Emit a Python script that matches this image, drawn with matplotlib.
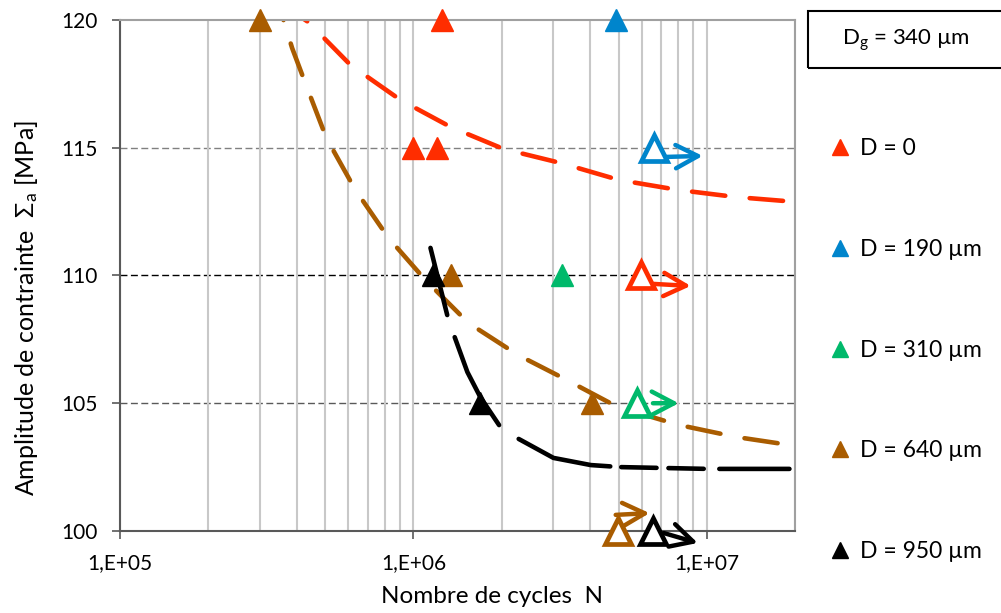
import numpy as np
import matplotlib
matplotlib.use("Agg")
import matplotlib.pyplot as plt
from matplotlib.lines import Line2D
from matplotlib.patches import Rectangle
from matplotlib.ticker import FixedLocator, FixedFormatter, LogLocator, NullFormatter

plt.rcParams['font.family'] = ['Lato', 'DejaVu Sans']
plt.rcParams['mathtext.fontset'] = 'custom'
plt.rcParams['mathtext.rm'] = 'Lato'
plt.rcParams['mathtext.it'] = 'Lato:italic'

# Données
labels = ["D = 0", "D = 190 µm", "D = 310 µm", "D = 640 µm", "D = 950 µm"]
colors = ["#FF2D00", "#0085CC", "#00B96B", "#A95C00", "#000000"]

# essais rompus (triangles pleins)
broken_x = [[1.25e6, 1.0e6, 1.2e6],
            [4.9e6],
            [3.2e6],
            [3.0e5, 1.34e6, 4.05e6],
            [1.17e6, 1.68e6]]
broken_y = [[120, 115, 115],
            [120],
            [110],
            [120, 110, 105],
            [110, 105]]

# essais non rompus (triangles vides + fleche)
runout_x = [5.95e6, 6.6e6, 5.8e6, 4.97e6, 6.55e6]
runout_y = [110, 115, 105, 100, 100]
arrow_start_x = [6.59e6, 7.24e6, 6.55e6, 4.89e6, 7.13e6]
arrow_start_y = [109.67, 114.64, 105.0, 100.63, 99.92]
arrow_end_x = [8.81e6, 9.68e6, 8.02e6, 6.38e6, 9.31e6]
arrow_end_y = [109.59, 114.68, 105.0, 100.70, 99.53]

# courbes de tendance
red_curve_x = [4.18e5, 4.38e5, 6.10e5, 9.03e5, 1.34e6, 2.03e6, 3.18e6, 5.01e6, 7.96e6, 1.256e7, 2.01e7]
red_curve_y = [120.08, 119.92, 118.24, 116.87, 115.81, 114.95, 114.40, 113.74, 113.35, 113.07, 112.88]
brown_curve_x = [3.52e5, 3.86e5, 4.28e5, 5.05e5, 6.34e5, 8.22e5, 1.099e6, 1.54e6, 2.27e6, 3.18e6, 4.97e6, 8.02e6, 1.256e7, 2.01e7]
brown_curve_y = [120.39, 118.90, 117.53, 115.38, 113.35, 111.47, 109.82, 108.14, 106.89, 106.03, 104.85, 104.15, 103.68, 103.33]
black_curve_x = [1.143e6, 1.316e6, 1.527e6, 1.69e6, 2.01e6, 2.32e6, 3.0e6, 4.02e6, 5.08e6, 1.006e7, 2.0e7]
black_curve_y = [111.08, 108.26, 106.22, 105.24, 103.95, 103.56, 102.86, 102.58, 102.50, 102.43, 102.43]

xtick_values = [1e5, 1e6, 1e7]
xtick_labels = ["1,E+05", "1,E+06", "1,E+07"]
ytick_values = [100, 105, 110, 115, 120]
hline_values = [105, 110, 115]
hline_colors = ["#595959", "#000000", "#808080"]

fig = plt.figure(figsize=(10.01, 6.13), dpi=100)
ax = fig.add_axes([0.1199, 0.1338, 0.6745, 0.8336])
ax.set_xscale("log")
ax.set_xlim(1e5, 2e7)
ax.set_ylim(100, 120)

# quadrillage
ax.xaxis.set_major_locator(FixedLocator(xtick_values))
ax.xaxis.set_major_formatter(FixedFormatter(xtick_labels))
ax.xaxis.set_minor_locator(LogLocator(base=10, subs=np.arange(2, 10)))
ax.xaxis.set_minor_formatter(NullFormatter())
ax.grid(axis="x", which="both", color="#C8C8C8", lw=1.5, zorder=0)
for v, c in zip(hline_values, hline_colors):
    ax.axhline(v, color=c, lw=1.0, ls=(0, (5, 2.5)), zorder=1)

# courbes
ax.plot(red_curve_x, red_curve_y, color=colors[0], lw=3.3, ls=(6.0, (7.3, 5.35)),
        dash_capstyle="round", zorder=2)
ax.plot(brown_curve_x, brown_curve_y, color=colors[3], lw=3.3, ls=(5.0, (7.3, 5.35)),
        dash_capstyle="round", zorder=2)
ax.plot(black_curve_x, black_curve_y, color=colors[4], lw=3.3,
        ls=(0, (15.1, 5.1, 21.6, 5.35, 21.2, 2.4, 7.7, 2.6, 7.7, 3.4, 15.3, 2.0)),
        dash_capstyle="round", zorder=2)

# points
handles = []
for i in range(len(labels)):
    ax.plot(broken_x[i], broken_y[i], ls="none", marker="^", ms=16,
            color=colors[i], clip_on=False, zorder=4)
    ax.plot(runout_x[i], runout_y[i], ls="none", marker="^", ms=19,
            mfc="white", mec=colors[i], mew=3.4, clip_on=False, zorder=4)
    ax.annotate("", xy=(arrow_end_x[i], arrow_end_y[i]),
                xytext=(arrow_start_x[i], arrow_start_y[i]),
                arrowprops=dict(arrowstyle="->,head_length=0.8,head_width=0.42",
                                color=colors[i], lw=3.2, mutation_scale=20,
                                shrinkA=0, shrinkB=0),
                annotation_clip=False, zorder=5)
    handles.append(Line2D([], [], ls="none", marker="^", ms=11, color=colors[i]))

ax.set_yticks(ytick_values)
ax.tick_params(axis="both", which="major", labelsize=15, length=6, width=1.2,
               color="#595959", direction="out")
ax.tick_params(axis="y", pad=10)
ax.tick_params(axis="x", pad=10)
ax.tick_params(axis="x", which="minor", length=0)
ax.tick_params(top=False, right=False)

for side in ["left", "bottom"]:
    ax.spines[side].set_color("#595959")
    ax.spines[side].set_linewidth(1.5)
for side in ["top", "right"]:
    ax.spines[side].set_color("#A0A0A0")
    ax.spines[side].set_linewidth(1.5)

ax.set_xlabel("Nombre de cycles  N", fontsize=17.5)
ax.xaxis.set_label_coords(0.551, -0.108)
ax.set_ylabel("Amplitude de contrainte  Σ$_\\mathrm{a}$ [MPa]", fontsize=18)
ax.yaxis.set_label_coords(-0.118, 0.436)

# légende
fig.legend(handles, labels, loc="center left", bbox_to_anchor=(0.819, 0.429),
           frameon=False, fontsize=16.5, handlelength=0.8, handletextpad=0.45,
           labelspacing=3.47, borderpad=0)

fig.patches.append(Rectangle((0.807, 0.889), 0.2, 0.093, transform=fig.transFigure,
                             fill=False, ec="black", lw=1.5))
fig.text(0.905, 0.935, "D$_\\mathrm{g}$ = 340 µm", fontsize=16, ha="center", va="center")

fig.savefig("out.png", dpi=100)
